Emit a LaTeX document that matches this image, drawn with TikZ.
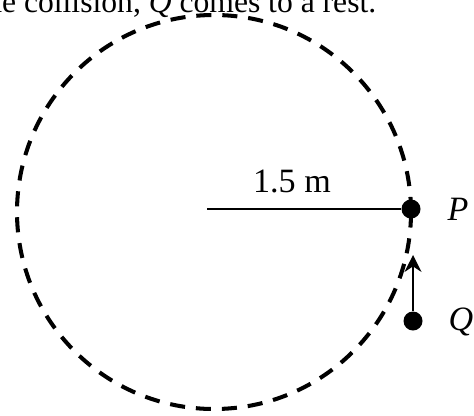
\documentclass[tikz,border=0pt]{standalone}
\usepackage{fontspec}
\setmainfont{Liberation Serif}
\usetikzlibrary{arrows.meta, positioning}

\tikzset{
	pathdash/.style={line width=1.15pt, dash pattern=on 4.3pt off 3.1pt},
	ball/.style={circle, fill=black, inner sep=0pt, minimum size=0.19cm},
	rod/.style={line width=0.6pt}
}

\begin{document}
\begin{tikzpicture}[font=\fontsize{9.7}{11}\selectfont]
		\clip (0, 0) rectangle (4.74, 4.15);
		% Path, balls and labels:
		\node[anchor=base east, inner sep=0pt, font=\fontsize{9}{11}\selectfont](N0) at (3.77, 4.03){the collision, \textit{Q} comes to a rest.};
		\draw[pathdash] (2.14, 2.03) circle (1.97);
		\coordinate (C) at (2.07, 2.06);
		\coordinate (A) at (4.13, 1.60);
		\node[ball](N1) at (4.11, 2.06){};
		\node[ball](N2) at (4.13, 0.94){};
		\node[anchor=west, inner sep=0pt](N3) at (4.47, 2.06){\textit{P}};
		\node[anchor=west, inner sep=0pt](N4) at (4.48, 0.93){\textit{Q}};
		\node[inner sep=0pt](N5) at (2.92, 2.335){1.5 m};
		\draw[rod] (C) -- (N1);
		\draw[rod, -{Stealth[length=4.8pt, width=4.8pt]}] (N2) -- (A);
	\end{tikzpicture}
\end{document}
